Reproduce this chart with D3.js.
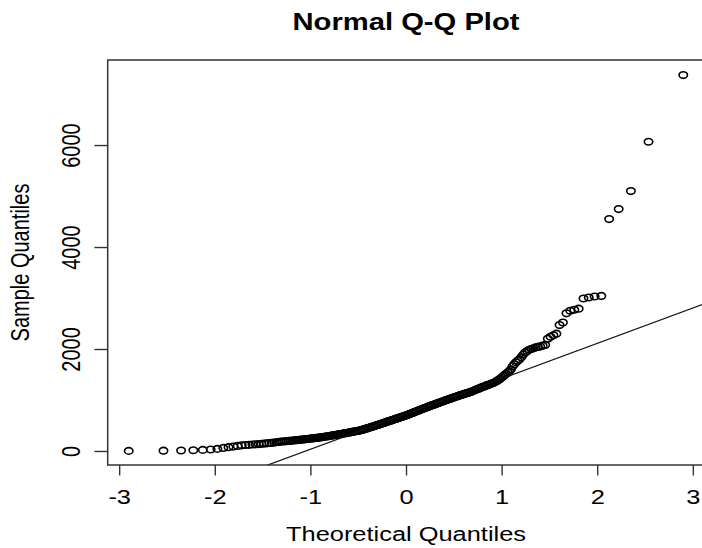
<!DOCTYPE html>
<html><head><meta charset="utf-8">
<script src="https://cdn.jsdelivr.net/npm/d3@7"></script>
<style>html,body{margin:0;padding:0;background:#fff;}svg{display:block;}</style>
</head><body>
<svg id="chart" width="702" height="548"></svg>
<script>
// ---- data ----
const title = "Normal Q-Q Plot";
const xLabel = "Theoretical Quantiles";
const yLabel = "Sample Quantiles";
const xTicks = [-3, -2, -1, 0, 1, 2, 3];
const yTicks = [0, 2000, 4000, 6000];
// sorted sample values (n = 268)
const sampleValues = [
  2, 5, 9, 14, 21, 29, 41,
  60, 74, 87, 99, 111,
  117, 121, 127, 131, 136, 141, 145, 150, 156, 160, 165, 171, 176, 183,
  186, 190, 193, 197, 200, 203, 207, 211, 214, 217, 221, 225, 228, 231, 235, 239, 242, 246, 249, 252, 256, 259, 262, 266,
  269, 272, 277, 281, 284, 289, 293, 296, 301, 305, 308, 313, 317, 320, 325, 329, 332, 337, 341, 345, 349, 352, 357, 361, 364, 369, 373, 376, 381, 385, 388, 392, 395, 399, 402,
  408, 413, 420, 425, 430, 437, 442, 449, 455, 460, 467, 472, 479, 484, 491, 497, 502, 509, 514, 521,
  527, 532, 539, 545, 550, 557, 562, 569, 575, 580, 587, 592, 599, 605, 610, 617, 623, 628, 635, 641,
  646, 653, 659, 664, 671, 677, 682, 689, 694, 700,
  706, 713, 720, 727, 734, 741, 748, 756, 762, 769, 776, 784, 790, 797, 804, 811, 818, 826, 832, 839,
  846, 853, 860, 867, 874, 881, 888, 894, 900,
  906, 913, 920, 927, 934, 941, 948, 955, 961, 968, 975, 982, 989, 996, 1003, 1010, 1016, 1023, 1030, 1037,
  1044, 1051, 1058, 1064, 1071, 1078, 1085, 1092, 1099, 1106, 1112, 1119, 1126, 1133, 1139, 1145, 1150,
  1160, 1169, 1179, 1189, 1198, 1208, 1217, 1227, 1237, 1246, 1256, 1265, 1275, 1285, 1294, 1304, 1313, 1323, 1333,
  1345, 1360, 1378, 1395, 1415, 1440, 1465, 1490, 1515, 1540, 1565,
  1600, 1660, 1700, 1740, 1770, 1800, 1840, 1890, 1930, 1960, 1985, 2000, 2015, 2030, 2040, 2050, 2065, 2080,
  2200, 2240, 2270, 2300, 2470, 2520, 2700, 2750, 2770, 2790, 2990, 3010, 3030, 3040,
  4549, 4745, 5098, 6065, 7373
];
// reference line through the quartiles (values at p = 0.25, 0.75)
const qqlineProbs = [0.25, 0.75];
const qqlineValues = [259, 1193];

// ---- inverse normal CDF (theoretical quantiles of the Q-Q plot) ----
function qnorm(p){
  const a=[-3.969683028665376e+01,2.209460984245205e+02,-2.759285104469687e+02,1.383577518672690e+02,-3.066479806614716e+01,2.506628277459239e+00];
  const b=[-5.447609879822406e+01,1.615858368580409e+02,-1.556989798598866e+02,6.680131188771972e+01,-1.328068155288572e+01];
  const c=[-7.784894002430293e-03,-3.223964580411365e-01,-2.400758277161838e+00,-2.549732539343734e+00,4.374664141464968e+00,2.938163982698783e+00];
  const d=[7.784695709041462e-03,3.224671290700398e-01,2.445134137142996e+00,3.754408661907416e+00];
  const pl=0.02425, ph=1-pl; let q,r;
  if(p<pl){q=Math.sqrt(-2*Math.log(p));return (((((c[0]*q+c[1])*q+c[2])*q+c[3])*q+c[4])*q+c[5])/((((d[0]*q+d[1])*q+d[2])*q+d[3])*q+1);}
  if(p<=ph){q=p-0.5;r=q*q;return (((((a[0]*r+a[1])*r+a[2])*r+a[3])*r+a[4])*r+a[5])*q/(((((b[0]*r+b[1])*r+b[2])*r+b[3])*r+b[4])*r+1);}
  q=Math.sqrt(-2*Math.log(1-p));return -(((((c[0]*q+c[1])*q+c[2])*q+c[3])*q+c[4])*q+c[5])/((((d[0]*q+d[1])*q+d[2])*q+d[3])*q+1);
}
const n = sampleValues.length;
const points = sampleValues.map((v,i)=>({x: qnorm((i+1-0.5)/n), y: v}));

// ---- layout ----
const SX = 1.27; // horizontal stretch of the reference image
const box = {left:107.7, right:704.3, top:60, bottom:465};
const x = d3.scaleLinear().domain([-3.12, 3.12]).range([box.left, box.right]);
const y = d3.scaleLinear().domain([-275, 7668]).range([box.bottom, box.top]);
const font = "'Liberation Sans', Arial, Helvetica, sans-serif";

const svg = d3.select("#chart");
svg.append("rect").attr("width",702).attr("height",548).attr("fill","#fff");

svg.append("clipPath").attr("id","plotclip").append("rect")
  .attr("x",box.left).attr("y",box.top).attr("width",box.right-box.left).attr("height",box.bottom-box.top);

// points
svg.append("g").attr("clip-path","url(#plotclip)")
  .selectAll("ellipse").data(points).join("ellipse")
  .attr("cx",d=>x(d.x)).attr("cy",d=>y(d.y))
  .attr("rx",4.2).attr("ry",3.3)
  .attr("fill","none").attr("stroke","#000").attr("stroke-width",1.6);

// qq line
const qx = qqlineProbs.map(qnorm);
const slope = (qqlineValues[1]-qqlineValues[0])/(qx[1]-qx[0]);
const intercept = qqlineValues[0]-slope*qx[0];
const xd = x.domain();
svg.append("line").attr("clip-path","url(#plotclip)")
  .attr("x1",x(xd[0])).attr("y1",y(intercept+slope*xd[0]))
  .attr("x2",x(xd[1])).attr("y2",y(intercept+slope*xd[1]))
  .attr("stroke","#111").attr("stroke-width",1.2);

// box
svg.append("rect").attr("x",box.left).attr("y",box.top)
  .attr("width",box.right-box.left).attr("height",box.bottom-box.top)
  .attr("fill","none").attr("stroke","#333").attr("stroke-width",1.5);

// x axis
const xAxis = svg.append("g").attr("transform",`translate(0,${box.bottom})`)
  .call(d3.axisBottom(x).tickValues(xTicks).tickSize(10.5).tickSizeOuter(0)
        .tickFormat(d=>String(d)));
xAxis.select(".domain").remove();
xAxis.selectAll(".tick line").attr("stroke","#333").attr("stroke-width",1.4);
xAxis.selectAll(".tick text").attr("y",39).attr("dy",null)
  .attr("transform",`scale(${SX},1)`)
  .attr("font-family",font).attr("font-size",20).attr("fill","#000");

// y axis
const yAxis = svg.append("g").attr("transform",`translate(${box.left},0)`)
  .call(d3.axisLeft(y).tickValues(yTicks).tickSize(10.5*SX).tickSizeOuter(0).tickFormat(d=>String(d)));
yAxis.select(".domain").remove();
yAxis.selectAll(".tick line").attr("stroke","#333").attr("stroke-width",1.4);
yAxis.selectAll(".tick text")
  .attr("x",null).attr("dy",null).attr("y",0)
  .attr("text-anchor","middle")
  .attr("transform",`translate(${80-box.left},0) scale(${SX},1) rotate(-90)`)
  .attr("font-family",font).attr("font-size",20).attr("fill","#000");

// title & labels
svg.append("text").attr("transform",`translate(${(box.left+box.right)/2},30) scale(${SX},1)`)
  .attr("text-anchor","middle").attr("font-family",font).attr("font-weight","bold")
  .attr("font-size",23).attr("fill","#000").text(title);
svg.append("text").attr("transform",`translate(${(box.left+box.right)/2},541) scale(${SX},1)`)
  .attr("text-anchor","middle").attr("font-family",font)
  .attr("font-size",20).attr("fill","#000").text(xLabel);
svg.append("text").attr("transform",`translate(29,${(box.top+box.bottom)/2}) scale(${SX},1) rotate(-90)`)
  .attr("text-anchor","middle").attr("font-family",font)
  .attr("font-size",20).attr("fill","#000").text(yLabel);
</script>
</body></html>
